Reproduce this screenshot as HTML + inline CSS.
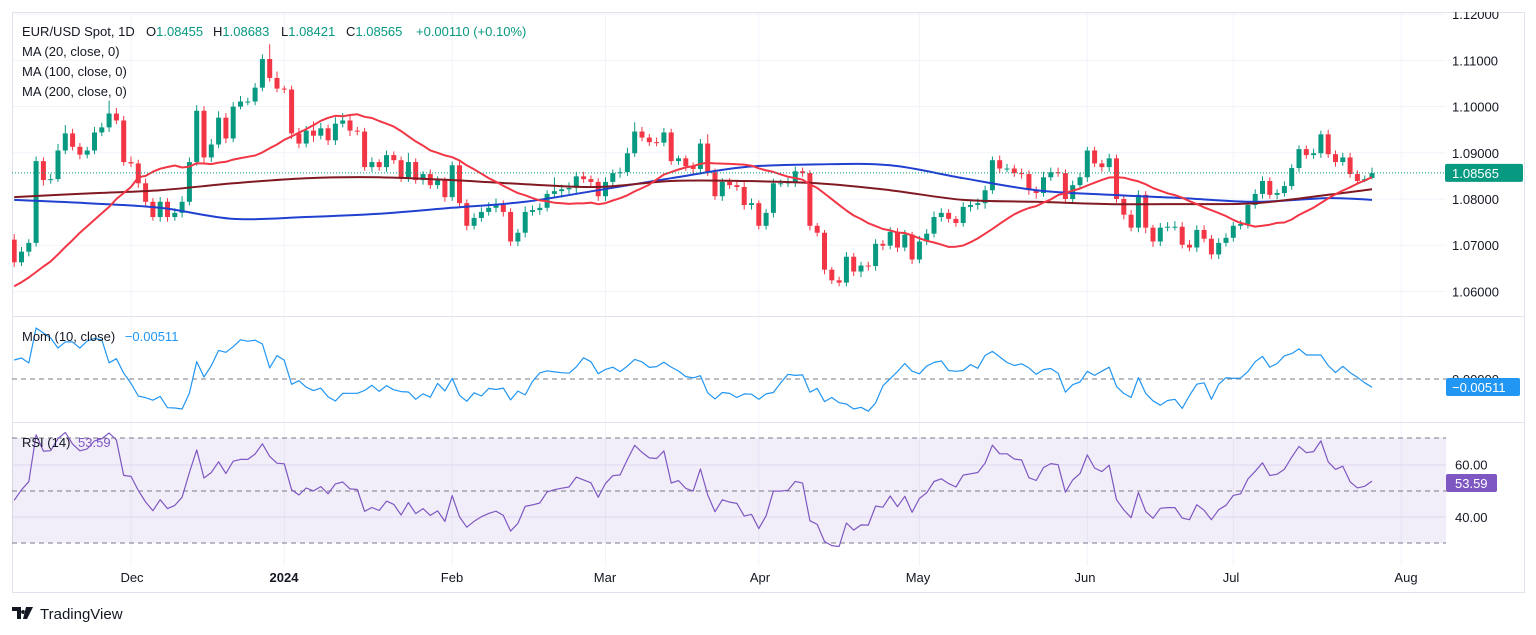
<!DOCTYPE html>
<html><head><meta charset="utf-8"><style>
html,body{margin:0;padding:0;background:#fff;width:1536px;height:635px;overflow:hidden}
svg{display:block;font-family:"Liberation Sans",sans-serif}
</style></head><body>
<svg id="chart" width="1536" height="635" viewBox="0 0 1536 635">
<defs>
<clipPath id="clipMain"><rect x="12" y="12" width="1434" height="304"/></clipPath>
<clipPath id="clipAxis"><rect x="1446" y="12" width="79" height="304"/></clipPath>
<clipPath id="clipMom"><rect x="12" y="317" width="1434" height="105"/></clipPath>
</defs>
<g id="grid"></g>
<rect x="12" y="316" width="1513" height="1" fill="#e0e3eb"/>
<rect x="12" y="422" width="1513" height="1" fill="#e0e3eb"/>
<rect x="12" y="592" width="1513" height="1" fill="#e0e3eb"/>
<rect x="12.5" y="12.5" width="1512" height="580" fill="none" stroke="#e0e3eb"/>
<rect x="12" y="438" width="1434" height="105" fill="#7e57c2" fill-opacity="0.1"/>
<line x1="12" x2="1446" y1="438" y2="438" stroke="#787b86" stroke-dasharray="5,4"/>
<line x1="12" x2="1446" y1="491" y2="491" stroke="#787b86" stroke-dasharray="5,4"/>
<line x1="12" x2="1446" y1="543" y2="543" stroke="#787b86" stroke-dasharray="5,4"/>
<line x1="12" x2="1446" y1="379" y2="379" stroke="#787b86" stroke-dasharray="5,4"/>
<g id="main" clip-path="url(#clipMain)"></g>
<g id="mom" clip-path="url(#clipMom)"></g>
<g id="rsi"></g>
<g id="axis" font-size="13" fill="#131722"></g>

<g font-size="13" fill="#131722">
<text x="22" y="36">EUR/USD Spot, 1D</text>
<text x="146" y="36">O<tspan fill="#089981">1.08455</tspan></text>
<text x="213" y="36">H<tspan fill="#089981">1.08683</tspan></text>
<text x="281" y="36">L<tspan fill="#089981">1.08421</tspan></text>
<text x="346" y="36">C<tspan fill="#089981">1.08565</tspan></text>
<text x="416" y="36" fill="#089981">+0.00110 (+0.10%)</text>
<text x="22" y="56">MA (20, close, 0)</text>
<text x="22" y="76">MA (100, close, 0)</text>
<text x="22" y="96">MA (200, close, 0)</text>
<text x="22" y="341">Mom (10, close) <tspan fill="#2196f3" dx="6">−0.00511</tspan></text>
<text x="22" y="447">RSI (14) <tspan fill="#7e57c2" dx="4">53.59</tspan></text>
</g>
<g font-size="13" fill="#131722" text-anchor="middle">
<text x="132" y="582">Dec</text>
<text x="284" y="582" font-weight="bold">2024</text>
<text x="452" y="582">Feb</text>
<text x="605" y="582">Mar</text>
<text x="760" y="582">Apr</text>
<text x="918" y="582">May</text>
<text x="1085" y="582">Jun</text>
<text x="1231" y="582">Jul</text>
<text x="1406" y="582">Aug</text>
</g>
<g>
<path d="M12 607h9v12h-4v-8h-5z M23 610a2 2 0 1 0 0.1 0z M26 607h7l-6 12h-4z" fill="#131722"/>
<text x="40" y="619" font-size="15" fill="#131722">TradingView</text>
</g>
</svg>
<script>
const firstOpen = 1.0712;
const closes = [
1.0663,1.0686,1.0705,1.0882,1.0841,1.0843,1.0905,1.0942,1.0913,1.0896,
1.0905,1.0944,1.0955,1.0985,1.0970,1.0880,1.0877,1.0834,1.0794,1.0761,
1.0794,1.0761,1.0770,1.0794,1.0880,1.0991,1.0890,1.0918,1.0976,1.0931,
1.1000,1.1011,1.1011,1.1041,1.1103,1.1062,1.1039,1.1037,1.0942,1.0920,
1.0948,1.0937,1.0953,1.0927,1.0963,1.0970,1.0948,1.0946,1.0869,1.0880,
1.0869,1.0895,1.0884,1.0847,1.0880,1.0841,1.0854,1.0830,1.0841,1.0804,
1.0873,1.0791,1.0742,1.0759,1.0772,1.0781,1.0787,1.0772,1.0708,1.0727,
1.0772,1.0776,1.0781,1.0811,1.0817,1.0821,1.0824,1.0849,1.0843,1.0837,
1.0806,1.0837,1.0856,1.0858,1.0899,1.0946,1.0933,1.0923,1.0922,1.0944,
1.0882,1.0888,1.0871,1.0865,1.0920,1.0858,1.0806,1.0837,1.0830,1.0826,
1.0787,1.0791,1.0742,1.0770,1.0834,1.0834,1.0836,1.0860,1.0856,1.0742,
1.0727,1.0647,1.0624,1.0619,1.0675,1.0643,1.0656,1.0655,1.0703,1.0699,
1.0729,1.0695,1.0723,1.0669,1.0708,1.0725,1.0761,1.0770,1.0757,1.0748,
1.0783,1.0787,1.0791,1.0819,1.0884,1.0866,1.0866,1.0856,1.0854,1.0819,
1.0813,1.0847,1.0858,1.0856,1.0800,1.0830,1.0847,1.0905,1.0877,1.0869,
1.0888,1.0800,1.0766,1.0738,1.0809,1.0738,1.0708,1.0738,1.0740,1.0740,
1.0701,1.0695,1.0733,1.0714,1.0680,1.0705,1.0716,1.0742,1.0746,1.0787,
1.0811,1.0839,1.0809,1.0813,1.0828,1.0867,1.0908,1.0895,1.0899,1.0940,
1.0897,1.0880,1.0890,1.0854,1.0839,1.0843,1.0856];
const upWick = [
12,10,8,10,8,12,14,18,10,8, 8,12,10,28,12,10,12,8,10,8, 10,8,10,12,10,12,10,12,14,10,
10,12,8,10,10,32,14,6,8,12, 10,20,12,8,14,16,10,8,8,10, 6,10,8,8,20,8,6,10,8,6,
8,8,8,10,10,12,14,10,8,8, 12,10,10,8,30,10,12,10,10,8, 8,10,8,10,12,20,10,8,10,10,
8,6,6,8,10,20,8,8,8,10, 12,10,6,8,10,8,10,10,8,6, 6,6,6,8,10,8,8,8,10,8,
10,8,10,6,12,10,12,10,8,6, 10,8,10,10,8,10,10,8,10,8, 8,12,10,10,8,10,10,8,8,8,
10,8,8,10,10,8,6,10,10,12, 10,10,10,10,8,10,10,8,8,8, 10,10,8,8,10,8,8,8,10,8,
10,8,10,10,8,8,12];
const dnWick = [
10,8,10,8,12,8,6,8,8,10, 8,8,8,10,8,8,8,10,8,8, 10,10,8,10,8,8,12,10,8,10,
8,6,8,8,8,8,8,8,12,10, 8,14,8,10,10,8,12,8,8,10, 8,10,8,10,10,8,10,8,8,10,
8,8,10,8,8,8,10,10,10,10, 10,8,10,8,10,14,10,12,8,10, 10,10,8,10,8,8,8,8,8,8,
8,8,10,10,12,8,8,10,8,8, 10,10,8,8,10,8,8,10,8,10, 8,10,8,8,8,10,12,10,10,10,
8,10,8,10,8,8,8,10,8,8, 8,10,10,12,8,10,8,8,10,10, 12,8,8,8,10,8,8,10,8,10,
10,8,10,8,10,12,12,10,8,8, 8,8,10,8,10,10,8,8,8,10, 8,10,8,10,8,8,8,8,8,10,
8,10,8,8,8,3,3];
const ma20Head = [1.0611,1.0620,1.0630,1.0642,1.0654,1.0665,1.0680,1.0696,1.0711,1.0727,1.0741,1.0755,1.0769,1.0783,1.0800,1.0813,1.0826,1.0847,1.0850];
const maBars = [0,10,20,30,40,50,60,70,80,90,100,110,120,130,140,150,160,170,180,186];
const ma100 = [1.0798,1.0791,1.0781,1.0757,1.0761,1.0768,1.0781,1.0794,1.0819,1.0845,1.0869,1.0875,1.0873,1.0845,1.0819,1.0809,1.0802,1.0794,1.0802,1.0798];
const ma200 = [1.0804,1.0812,1.0819,1.0834,1.0845,1.0847,1.0841,1.0832,1.0826,1.0839,1.0839,1.0834,1.0819,1.0798,1.0794,1.0789,1.0789,1.0791,1.0809,1.0821];
const momHead = [0.0121,0.0134,0.0102,0.0325,0.0293,0.0261,0.0197,0.0236,0.0236,0.0197];
const rsiSeedGain = 0.0011;
const rsiSeedLoss = 0.0009;
const priceTicks = [1.12,1.11,1.10,1.09,1.08,1.07,1.06];
const rsiTicks = [60,40];
const monthBars = [16,37,60,81,102,124,147,167,190];
const lastPrice = 1.08565;

const NS = 'http://www.w3.org/2000/svg';
const X = i => 14.2 + i * 7.3;
const Y = p => 199 - (p - 1.08) * 4620;
const YM = m => 379 - m * 1570;
const YR = r => 438 + (70 - r) * 2.625;
function mk(tag, attrs, parent) {
  const el = document.createElementNS(NS, tag);
  for (const k in attrs) el.setAttribute(k, attrs[k]);
  parent.appendChild(el);
  return el;
}
const grid = document.getElementById('grid');
const main = document.getElementById('main');
const momG = document.getElementById('mom');
const rsiG = document.getElementById('rsi');
const axis = document.getElementById('axis');

priceTicks.forEach(p => {
  const l = mk('line', {x1: 12, x2: 1446, y1: Y(p), y2: Y(p), stroke: '#f0f3fa'}, grid);
  
  
  const t = mk('text', {x: 1452, y: Y(p) + 5, 'clip-path': 'url(#clipAxis)'}, axis);
  t.textContent = p.toFixed(5);
  
  
});
monthBars.forEach(b => {
  const l = mk('line', {x1: X(b), x2: X(b), y1: 12, y2: 566, stroke: '#f0f3fa'}, grid);
  
  
});
[465, 517].forEach(y => {
  const l = mk('line', {x1: 12, x2: 1446, y1: y, y2: y, stroke: '#e9e4f5'}, grid);
  
  
});

closes.forEach((c, i) => {
  const o = i === 0 ? firstOpen : (i === closes.length - 1 ? 1.08455 : closes[i - 1]);
  const hi = Math.max(o, c) + upWick[i] / 10000;
  const lo = Math.min(o, c) - dnWick[i] / 10000;
  const col = c >= o ? '#089981' : '#f23645';
  const x = X(i);
  const w = mk('line', {x1: x, x2: x, y1: Y(hi), y2: Y(lo), stroke: col, 'stroke-width': 1}, main);
  
  
  const top = Y(Math.max(o, c)), bot = Y(Math.min(o, c));
  const b = mk('rect', {x: x - 2.5, y: top, width: 5, height: Math.max(1, bot - top), fill: col}, main);
  
  
});

function polyline(pts, color, width, parent) {
  return mk('polyline', {points: pts.map(q => q[0].toFixed(1) + ',' + q[1].toFixed(1)).join(' '), fill: 'none', stroke: color, 'stroke-width': width, 'stroke-linejoin': 'round'}, parent);
}
function smoothPath(pts, color, width, parent) {
  let d = 'M' + pts[0][0] + ',' + pts[0][1];
  for (let i = 0; i < pts.length - 1; i++) {
    const p0 = pts[Math.max(0, i - 1)], p1 = pts[i], p2 = pts[i + 1], p3 = pts[Math.min(pts.length - 1, i + 2)];
    const c1x = p1[0] + (p2[0] - p0[0]) / 6, c1y = p1[1] + (p2[1] - p0[1]) / 6;
    const c2x = p2[0] - (p3[0] - p1[0]) / 6, c2y = p2[1] - (p3[1] - p1[1]) / 6;
    d += ' C' + c1x.toFixed(1) + ',' + c1y.toFixed(1) + ' ' + c2x.toFixed(1) + ',' + c2y.toFixed(1) + ' ' + p2[0].toFixed(1) + ',' + p2[1].toFixed(1);
  }
  return mk('path', {d: d, fill: 'none', stroke: color, 'stroke-width': width}, parent);
}
const ma20 = closes.map((c, i) => {
  if (i < 19) return ma20Head[i];
  let s = 0; for (let k = i - 19; k <= i; k++) s += closes[k];
  return s / 20;
});
const l100 = smoothPath(ma100.map((v, k) => [X(maBars[k]), Y(v)]), '#2040d0', 2, main);


const l200 = smoothPath(ma200.map((v, k) => [X(maBars[k]), Y(v)]), '#801922', 2, main);


const l20 = polyline(ma20.map((v, i) => [X(i), Y(v)]), '#f23645', 2, main);



const pl = mk('line', {x1: 12, x2: 1446, y1: Y(lastPrice), y2: Y(lastPrice), stroke: '#089981', 'stroke-dasharray': '1,2'}, main);



const pb = mk('rect', {x: 1445, y: Y(lastPrice) - 9, width: 78, height: 18, rx: 2, fill: '#089981'}, axis);


const pt = mk('text', {x: 1452, y: Y(lastPrice) + 5, fill: '#ffffff'}, axis);
pt.textContent = lastPrice.toFixed(5);



const mom = closes.map((c, i) => i < 10 ? momHead[i] : c - closes[i - 10]);
const lm = polyline(mom.map((v, i) => [X(i), YM(v)]), '#2196f3', 1.2, momG);


const mz = mk('text', {x: 1452, y: 384, fill: '#131722'}, axis);
mz.textContent = '0.00000';


const mb = mk('rect', {x: 1446, y: 378, width: 74, height: 18, rx: 2, fill: '#2196f3'}, axis);


const mt = mk('text', {x: 1452, y: 392, fill: '#ffffff'}, axis);
mt.textContent = '−0.00511';



let ag = rsiSeedGain, al = rsiSeedLoss;
const rsi = closes.map((c, i) => {
  const prev = i === 0 ? firstOpen : closes[i - 1];
  const ch = c - prev;
  ag = (ag * 13 + Math.max(ch, 0)) / 14;
  al = (al * 13 + Math.max(-ch, 0)) / 14;
  return 100 - 100 / (1 + ag / al);
});
const lr = polyline(rsi.map((v, i) => [X(i), YR(v)]), '#7e57c2', 1.2, rsiG);


rsiTicks.forEach(r => {
  const t = mk('text', {x: 1455, y: YR(r) + 5}, axis);
  t.textContent = r.toFixed(2);
  
  
});
const rb = mk('rect', {x: 1446, y: 474, width: 51, height: 18, rx: 2, fill: '#7e57c2'}, axis);


const rt = mk('text', {x: 1455, y: 488, fill: '#ffffff'}, axis);
rt.textContent = '53.59';


</script>
</body></html>
